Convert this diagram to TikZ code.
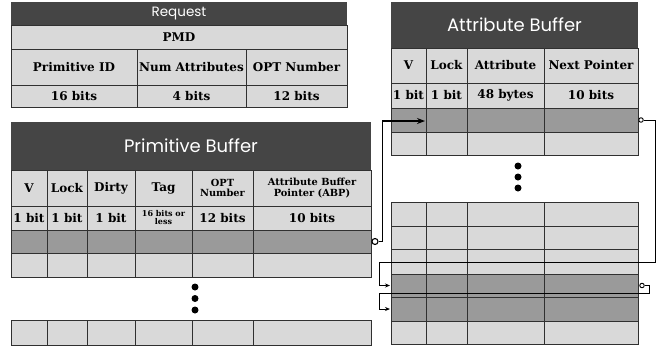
\documentclass[tikz,border=0pt]{standalone}
\usepackage{fontspec}
\setmainfont{DejaVu Serif}
\newfontfamily\titlefont{Poppins}
\usetikzlibrary{arrows.meta}
\definecolor{titlebg}{HTML}{454545}
\definecolor{lightc}{HTML}{D9D9D9}
\definecolor{darkc}{HTML}{9A9A9A}
\definecolor{gridc}{HTML}{303030}
\newcommand\tabrow[4]{%
  \edef\tabrowlist{#1}%
  \foreach \a/\b in \tabrowlist {\filldraw[fill=#4, gridline] (\a,#2) rectangle (\b,#3);}}
\tikzset{
  gridline/.style={draw=gridc, line width=1pt},
  hdr/.style={font=\bfseries\fontsize{12}{13}\selectfont, text=black, align=center, inner sep=0pt},
  hdrs/.style={font=\bfseries\fontsize{9.8}{10.5}\selectfont, text=black, align=center, inner sep=0pt},
  hdrxs/.style={font=\bfseries\fontsize{8}{8}\selectfont, text=black, align=center, inner sep=0pt},
  ttl/.style={font=\titlefont\fontsize{18}{20}\selectfont, text=white, inner sep=0pt},
  ttls/.style={font=\titlefont\fontsize{13.5}{15}\selectfont, text=white, inner sep=0pt},
  conn/.style={draw=black, line width=1.2pt},
  arrbig/.style={conn, -{Stealth[length=8pt,width=6pt]}},
  arrsm/.style={draw=black, line width=1pt, -{Stealth[length=5pt,width=4pt]}},
  ocircb/.style={circle, draw=black, fill=white, line width=1.1pt, inner sep=0pt, minimum size=6pt},
  ocircs/.style={circle, draw=black, fill=white, line width=0.9pt, inner sep=0pt, minimum size=4.5pt},
  bigdot/.style={circle, fill=black, inner sep=0pt, minimum size=7pt},
}
\begin{document}
\begin{tikzpicture}[x=1pt, y=-1pt]
\useasboundingbox (0,0) rectangle (657,349);
% ---------------- Request ----------------
\fill[titlebg] (11,2) rectangle (347,25);
\node[ttls] (rq-title) at (179,13.5) {Request};
\tabrow{11/347}{25}{49}{lightc}
\node[hdr] (rq-pmd) at (179,37) {PMD};
\tabrow{11/137,137/246,246/347}{49}{85}{lightc}
\tabrow{11/137,137/246,246/347}{85}{107}{lightc}
\node[hdr] (rq-h1) at (74,67) {Primitive ID};
\node[hdr] (rq-h2) at (191.5,67) {Num Attributes};
\node[hdr] (rq-h3) at (296.5,67) {OPT Number};
\node[hdr] (rq-b1) at (74,96) {16 bits};
\node[hdr] (rq-b2) at (191.5,96) {4 bits};
\node[hdr] (rq-b3) at (296.5,96) {12 bits};
% ---------------- Primitive Buffer ----------------
\fill[titlebg] (11,122) rectangle (371,170);
\node[ttl] (pb-title) at (191,146) {Primitive Buffer};
\def\pbcols{11/47,47/87,87/135,135/192,192/253,253/371}
\tabrow{\pbcols}{170}{206}{lightc}
\tabrow{\pbcols}{206}{230}{lightc}
\tabrow{\pbcols}{230}{253}{darkc}
\tabrow{\pbcols}{253}{277}{lightc}
\tabrow{\pbcols}{320}{345}{lightc}
\node[hdr] (pb-h1) at (29,188) {V};
\node[hdr] (pb-h2) at (67,188) {Lock};
\node[hdr] (pb-h3) at (111,188) {Dirty};
\node[hdr] (pb-h4) at (163.5,188) {Tag};
\node[hdrs] (pb-h5) at (222.5,188) {OPT\\Number};
\node[hdrs] (pb-h6) at (312,188) {Attribute Buffer\\Pointer (ABP)};
\node[hdr] (pb-b1) at (29,218) {1 bit};
\node[hdr] (pb-b2) at (67,218) {1 bit};
\node[hdr] (pb-b3) at (111,218) {1 bit};
\node[hdrxs] (pb-b4) at (163.5,218) {16 bits or\\less};
\node[hdr] (pb-b5) at (222.5,218) {12 bits};
\node[hdr] (pb-b6) at (312,218) {10 bits};
\node[bigdot] (pb-d1) at (195,287) {};
\node[bigdot] (pb-d2) at (195,298.5) {};
\node[bigdot] (pb-d3) at (195,310) {};
% ---------------- Attribute Buffer ----------------
\fill[titlebg] (391,2) rectangle (638,48);
\node[ttl] (ab-title) at (514.5,25) {Attribute Buffer};
\def\abcols{391/426,426/467,467/544,544/638}
\tabrow{\abcols}{48}{83}{lightc}
\tabrow{\abcols}{83}{108}{lightc}
\tabrow{\abcols}{108}{132}{darkc}
\tabrow{\abcols}{132}{155}{lightc}
\tabrow{\abcols}{202}{226}{lightc}
\tabrow{\abcols}{226}{249}{lightc}
\tabrow{\abcols}{249}{274}{lightc}
\tabrow{\abcols}{274}{297}{darkc}
\tabrow{\abcols}{297}{321}{darkc}
\tabrow{\abcols}{321}{344}{lightc}
\node[hdr] (ab-h1) at (408.5,65.5) {V};
\node[hdr] (ab-h2) at (446.5,65.5) {Lock};
\node[hdr] (ab-h3) at (505.5,65.5) {Attribute};
\node[hdr] (ab-h4) at (591,65.5) {Next Pointer};
\node[hdr] (ab-b1) at (408.5,95.5) {1 bit};
\node[hdr] (ab-b2) at (446.5,95.5) {1 bit};
\node[hdr] (ab-b3) at (505.5,95.5) {48 bytes};
\node[hdr] (ab-b4) at (591,95.5) {10 bits};
\node[bigdot] (ab-d1) at (518,166) {};
\node[bigdot] (ab-d2) at (518,177) {};
\node[bigdot] (ab-d3) at (518,188) {};
% ---------------- Connectors ----------------
\coordinate (ab-in0) at (425,121);
\coordinate (ab-in1) at (390,285.5);
\coordinate (ab-in2) at (390,309);
\node[ocircb] (c1) at (375,241.5) {};
\node[ocircs] (c2) at (641,120) {};
\node[ocircs] (c3) at (642,285.5) {};
\draw[arrbig] (c1.east) -- ++(4,0) |- (ab-in0);
\draw[arrsm] (c2.east) -- (655,120) -- (655,262) -- (379,262) |- (ab-in1);
\draw[arrsm] (c3.east) -- (649,285.5) -- (649,293) -- (379,293) |- (ab-in2);
\end{tikzpicture}
\end{document}
